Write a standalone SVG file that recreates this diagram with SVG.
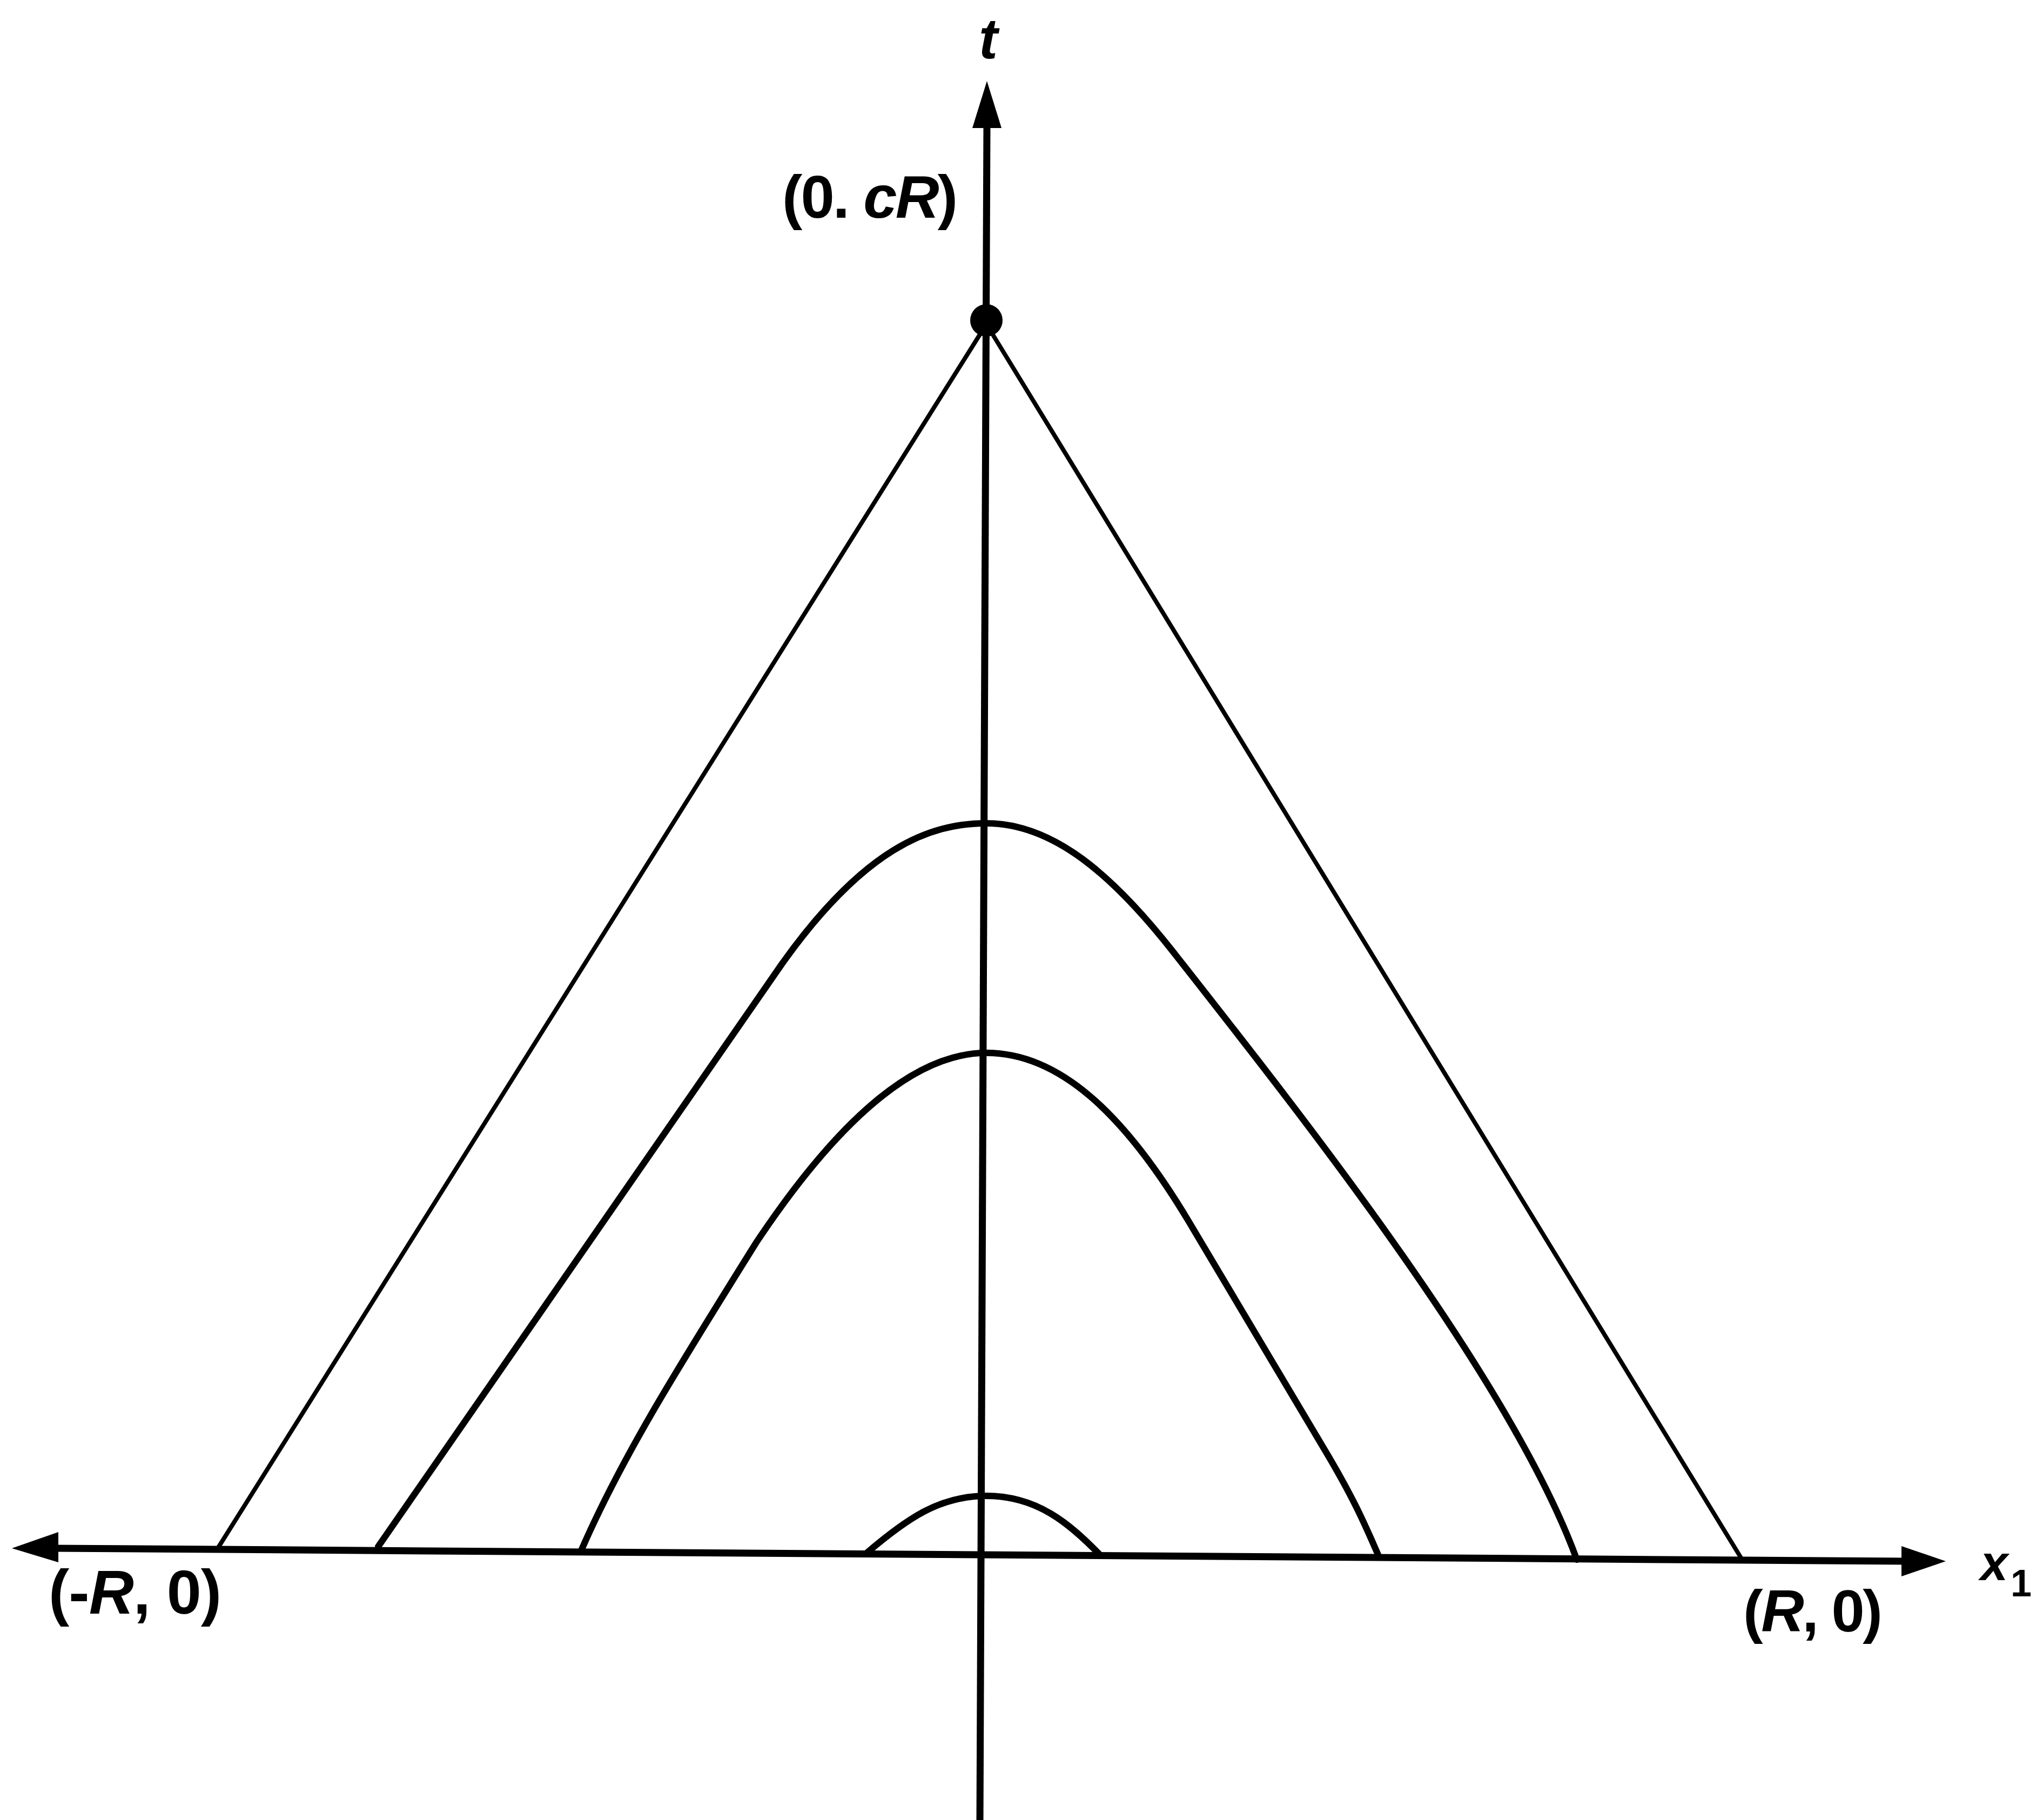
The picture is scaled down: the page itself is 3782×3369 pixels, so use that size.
<svg xmlns="http://www.w3.org/2000/svg" width="3782" height="3369" viewBox="0 0 3782 3369">
<style>
.ax{fill:none;stroke:#000;stroke-width:13;stroke-linecap:butt}
.cv{fill:none;stroke:#000;stroke-width:12;stroke-linejoin:round;stroke-linecap:round}
.thin{fill:none;stroke:#000;stroke-width:8;stroke-linejoin:round;stroke-linecap:round}
.lb{font-family:"Liberation Sans",Arial,sans-serif;font-weight:bold;fill:#000}
.it{font-style:italic}
</style>
<rect width="3782" height="3369" fill="#fff"/>
<g id="axes">
<path id="t-axis" class="ax" d="M1827 230 L1814 3369"/>
<polygon points="1827,150 1800,237 1854,237" fill="#000"/>
<path id="x-axis" class="ax" d="M100 2866 L3530 2890"/>
<polygon points="22,2866 108,2836 108,2892" fill="#000"/>
<polygon points="3602,2890 3520,2862 3520,2918" fill="#000"/>
</g>
<g id="apex">
<circle cx="1826" cy="593" r="30" fill="#000"/>
</g>
<g id="curves">
<path id="outer" class="thin" d="M405 2863 L1826 600 L3225 2887"/>
<path id="curve2" class="cv" d="M700 2863 L1447 1785 C1600 1570 1720 1524 1826 1524 C1950 1524 2060 1620 2171 1761 C2421 2079 2800 2560 2919 2887"/>
<path id="curve3" class="cv" d="M1076 2870 C1150 2700 1250 2540 1400 2300 C1560 2060 1700 1949 1826 1949 C1960 1949 2080 2060 2200 2260 L2450 2680 C2510 2780 2530 2830 2552 2880"/>
<path id="bump" class="cv" d="M1604 2875 C1680 2810 1740 2769 1826 2769 C1920 2769 1980 2820 2038 2880"/>
</g>
<g id="labels">
<text class="lb it" x="1812" y="108" font-size="105">t</text>
<text class="lb" x="1448" y="403" font-size="112" textLength="325" lengthAdjust="spacing">(0. <tspan class="it">cR</tspan>)</text>
<text class="lb" x="90" y="2987" font-size="115" textLength="320" lengthAdjust="spacing">(-<tspan class="it">R</tspan>, 0)</text>
<text class="lb" x="3227" y="3020" font-size="110" textLength="258" lengthAdjust="spacing">(<tspan class="it">R</tspan>, 0)</text>
<text class="lb it" x="3666" y="2925" font-size="92">x</text>
<text class="lb" x="3722" y="2955" font-size="70">1</text>
</g>
</svg>
